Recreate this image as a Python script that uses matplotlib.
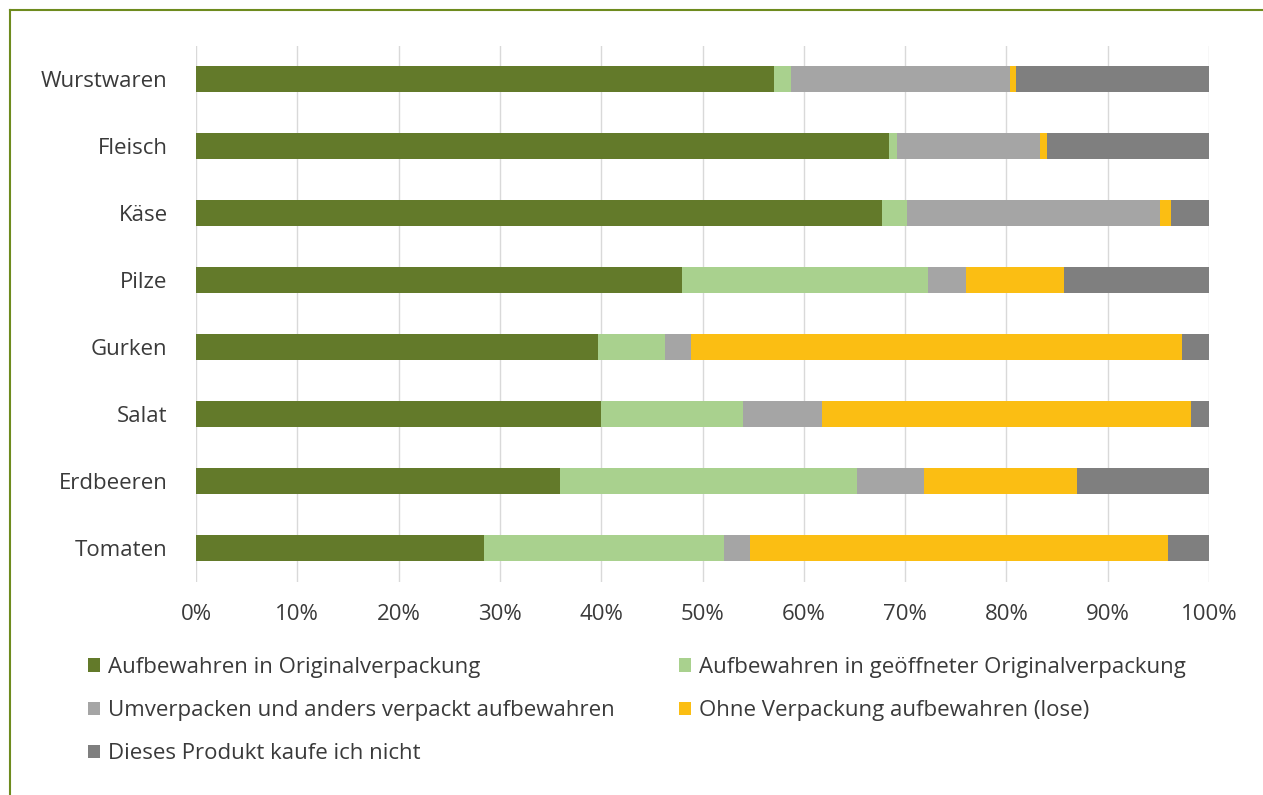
import matplotlib
matplotlib.use("Agg")
import matplotlib.pyplot as plt
from matplotlib.lines import Line2D
from matplotlib.patches import Patch
from matplotlib.ticker import PercentFormatter

categories = ["Wurstwaren", "Fleisch", "Käse", "Pilze", "Gurken", "Salat", "Erdbeeren", "Tomaten"]
series_names = [
    "Aufbewahren in Originalverpackung",
    "Aufbewahren in geöffneter Originalverpackung",
    "Umverpacken und anders verpackt aufbewahren",
    "Ohne Verpackung aufbewahren (lose)",
    "Dieses Produkt kaufe ich nicht",
]
original = [57.1, 68.4, 67.7, 48.0, 39.7, 40.0, 35.9, 28.4]
geoeffnet = [1.6, 0.8, 2.5, 24.3, 6.6, 14.0, 29.4, 23.7]
umverpackt = [21.7, 14.1, 25.0, 3.7, 2.6, 7.8, 6.6, 2.6]
lose = [0.5, 0.7, 1.0, 9.7, 48.4, 36.4, 15.1, 41.3]
kaufe_nicht = [19.1, 16.0, 3.8, 14.3, 2.7, 1.8, 13.0, 4.0]
colors = ["#637A2A", "#A9D18E", "#A5A5A5", "#FBBE13", "#7F7F7F"]
xticks = [0, 10, 20, 30, 40, 50, 60, 70, 80, 90, 100]

plt.rcParams['font.family'] = ['Open Sans', 'DejaVu Sans']
fig = plt.figure(figsize=(12.63, 7.95), dpi=100)
W, H = 1263, 795
ax = fig.add_axes([196 / W, 1 - 581.5 / H, (1209 - 196) / W, (581.5 - 45.5) / H])

series = [original, geoeffnet, umverpackt, lose, kaufe_nicht]
ypos = list(range(len(categories)))[::-1]
left = [0.0] * len(categories)
handles = []
for name, vals, c in zip(series_names, series, colors):
    ax.barh(ypos, vals, left=left, height=0.40, color=c, label=name, zorder=3)
    left = [a + b for a, b in zip(left, vals)]
    handles.append(Patch(facecolor=c, label=name))

txt = "#3A3A3A"
ax.set_xlim(0, 100)
ax.set_ylim(-0.5, 7.5)
ax.set_yticks(ypos)
ax.set_yticklabels(categories, fontsize=16, color=txt)
ax.set_xticks(xticks)
ax.xaxis.set_major_formatter(PercentFormatter(decimals=0))
ax.tick_params(axis="x", labelsize=16, colors=txt, length=0, pad=16)
ax.tick_params(axis="y", length=0, pad=20.5)
ax.grid(axis="x", color="#D9D9D9", linewidth=1, zorder=0)
for s in ax.spines.values():
    s.set_visible(False)

order = [0, 2, 4, 1, 3]
leg = fig.legend([handles[i] for i in order], [series_names[i] for i in order],
                 ncol=2, loc="upper left", bbox_to_anchor=(88 / W, 1 - 657 / H),
                 frameon=False, fontsize=16, handlelength=0.55, handleheight=0.55,
                 handletextpad=0.35, labelspacing=1.0, columnspacing=2.9,
                 borderpad=0, borderaxespad=0, labelcolor=txt)

border = "#6E8B1E"
fig.add_artist(Line2D([10 / W, 1], [1 - 10 / H, 1 - 10 / H], color=border, lw=1.5, transform=fig.transFigure))
fig.add_artist(Line2D([10 / W, 10 / W], [0, 1 - 10 / H], color=border, lw=1.5, transform=fig.transFigure))

fig.savefig("out.png", dpi=100)
